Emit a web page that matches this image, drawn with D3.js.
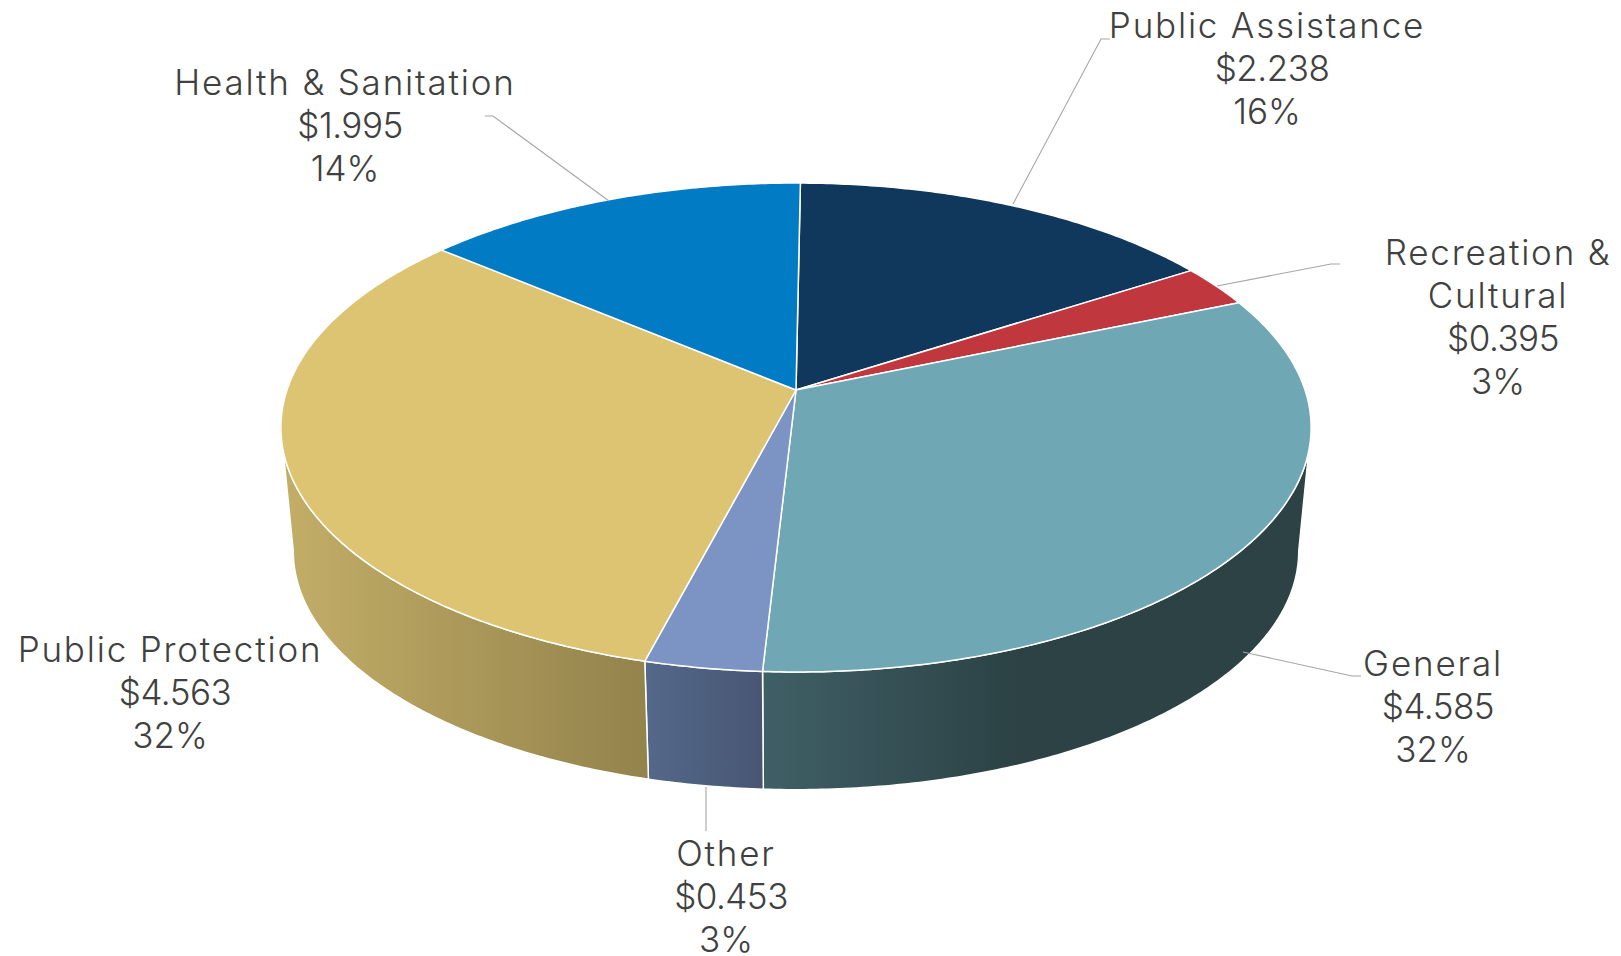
<!DOCTYPE html>
<html>
<head>
<meta charset="utf-8">
<title>Expenditures by function</title>
<script src="https://cdn.jsdelivr.net/npm/d3@7"></script>
<style>
  html, body { margin: 0; padding: 0; background: #fff; }
  svg { display: block; }
  .label text { font-family: Inter, "Open Sans", sans-serif; font-size: 35px; font-weight: 300; fill: #404040; text-anchor: middle; }
  .label .name { letter-spacing: 1.8px; }
  .label .amount { letter-spacing: -0.5px; }
</style>
</head>
<body>
<div id="chart"></div>
<script>
// Values, clockwise from 12 o'clock.
const categories = ["Public Assistance", "Recreation & Cultural", "General", "Other", "Public Protection", "Health & Sanitation"];
const values = [2.238, 0.395, 4.585, 0.453, 4.563, 1.995];

// Colors for the top of each slice.
const topColors = ["#10375c", "#c0373e", "#6fa8b4", "#7b94c4", "#dcc472", "#007bc4"];

// Side wall gradients, only for slices seen from the front.
const sideColors = {
  "General": ["#3f5f66", "#2c4245"],
  "Other": ["#54688a", "#475673"],
  "Public Protection": ["#c2ad67", "#93834c"]
};
const sideRange = {
  "General": [763, 1016],
  "Other": [646, 763],
  "Public Protection": [290, 646]
};

// Label placement: center x, first baseline, lines of the name.
const labelLayout = {
  "Public Assistance": {x: 1267, y: 38, lines: ["Public Assistance"]},
  "Recreation & Cultural": {x: 1498, y: 265, lines: ["Recreation &", "Cultural"]},
  "General": {x: 1433, y: 676, lines: ["General"]},
  "Other": {x: 726, y: 866, lines: ["Other"]},
  "Public Protection": {x: 170, y: 662, lines: ["Public Protection"]},
  "Health & Sanitation": {x: 345, y: 95, lines: ["Health & Sanitation"]}
};

// Leader lines from the labels to the pie.
const leaderLines = [
  [[1110, 39], [1101, 39], [1013, 204]],
  [[1340, 264], [1331, 264], [1217, 286]],
  [[1361, 676], [1352, 676], [1243, 652]],
  [[706, 787], [706, 831]],
  [[485, 116], [493, 116], [609, 201]]
];

const width = 1621;
const height = 956;
const lineHeight = 43;

// Perspective of the tilted disc: the near edge looks bigger than the far edge.
const tilt = 0.1534;
const topDisc = {
  x: d3.scaleLinear().domain([-1, 1]).range([796 - 509, 796 + 509]),
  y: d3.scaleLinear().domain([-1, 1]).range([390 - 238.7, 390 + 238.7])
};
const bottomDisc = {
  x: d3.scaleLinear().domain([-1, 1]).range([796 - 509 * 0.976, 796 + 509 * 0.976]),
  y: d3.scaleLinear().domain([-1, 1]).range([514.5 - 238.7 * 0.976, 514.5 + 238.7 * 0.976])
};

// Where the wall turns out of sight, left and right of the disc.
const wallStart = Math.acos(-tilt);
const wallEnd = 2 * Math.PI - wallStart;

// Angle is clockwise from the top. r = 0 gives the center of the disc.
function project(disc, angle, r) {
  let u = r * Math.sin(angle);
  let v = -r * Math.cos(angle);
  let w = 1 - tilt * v;
  return [disc.x(u / w), disc.y(v / w)];
}

function arcPoints(disc, a0, a1) {
  let n = Math.max(2, Math.ceil((a1 - a0) / 0.01));
  return d3.range(n + 1).map(i => project(disc, a0 + (a1 - a0) * i / n, 1));
}

const total = d3.sum(values);
const pie = d3.pie().sort(null).startAngle(0.01).endAngle(0.01 + 2 * Math.PI);
const slices = pie(values).map((d, i) => ({...d, name: categories[i], color: topColors[i]}));
const line = d3.line().curve(d3.curveLinear);

const svg = d3.select("#chart")
  .append("svg")
    .attr("width", width)
    .attr("height", height);

// Create one horizontal gradient for each visible side wall.
const defs = svg.append("defs");
const frontSlices = slices.filter(d => sideColors[d.name]);

frontSlices.forEach((d, i) => {
  let grad = defs.append("linearGradient")
    .attr("id", "side" + i)
    .attr("gradientUnits", "userSpaceOnUse")
    .attr("x1", sideRange[d.name][0])
    .attr("x2", sideRange[d.name][1])
    .attr("y1", 0)
    .attr("y2", 0);
  grad.append("stop").attr("offset", 0).attr("stop-color", sideColors[d.name][0]);
  grad.append("stop").attr("offset", 1).attr("stop-color", sideColors[d.name][1]);
});

// Side walls first, cut at the silhouette so the outline stays straight.
function wallPath(d) {
  let a0 = Math.max(d.startAngle, wallStart);
  let a1 = Math.min(d.endAngle, wallEnd);
  return line(arcPoints(topDisc, a0, a1).concat(arcPoints(bottomDisc, a0, a1).reverse())) + "Z";
}

svg.append("g")
  .selectAll("path")
  .data(frontSlices)
  .enter()
  .append("path")
    .attr("d", wallPath)
    .attr("fill", (d, i) => "url(#side" + i + ")")
    .attr("stroke", "#fff")
    .attr("stroke-width", 1.5)
    .attr("stroke-linejoin", "round");

// Top faces.
svg.append("g")
  .selectAll("path")
  .data(slices)
  .enter()
  .append("path")
    .attr("d", d => line([project(topDisc, 0, 0)].concat(arcPoints(topDisc, d.startAngle, d.endAngle))) + "Z")
    .attr("fill", d => d.color)
    .attr("stroke", "#fff")
    .attr("stroke-width", 1.5)
    .attr("stroke-linejoin", "round");

// Leader lines.
svg.append("g")
  .selectAll("path")
  .data(leaderLines)
  .enter()
  .append("path")
    .attr("d", d => line(d))
    .attr("fill", "none")
    .attr("stroke", "#a6a6a6")
    .attr("stroke-width", 1.1);

// Labels: name, dollar value, share of the total.
const formatValue = d3.format(".3f");
const formatShare = d3.format(".0%");

slices.forEach(d => {
  let pos = labelLayout[d.name];
  let g = svg.append("g").attr("class", "label");
  pos.lines.forEach((t, i) => {
    g.append("text")
      .attr("class", "name")
      .attr("x", pos.x)
      .attr("y", pos.y + i * lineHeight)
      .text(t);
  });
  let n = pos.lines.length;
  g.append("text")
    .attr("class", "amount")
    .attr("x", pos.x + 5)
    .attr("y", pos.y + n * lineHeight)
    .text("$" + formatValue(d.data));
  g.append("text")
    .attr("x", pos.x)
    .attr("y", pos.y + (n + 1) * lineHeight)
    .text(formatShare(d.data / total));
});
</script>
</body>
</html>
